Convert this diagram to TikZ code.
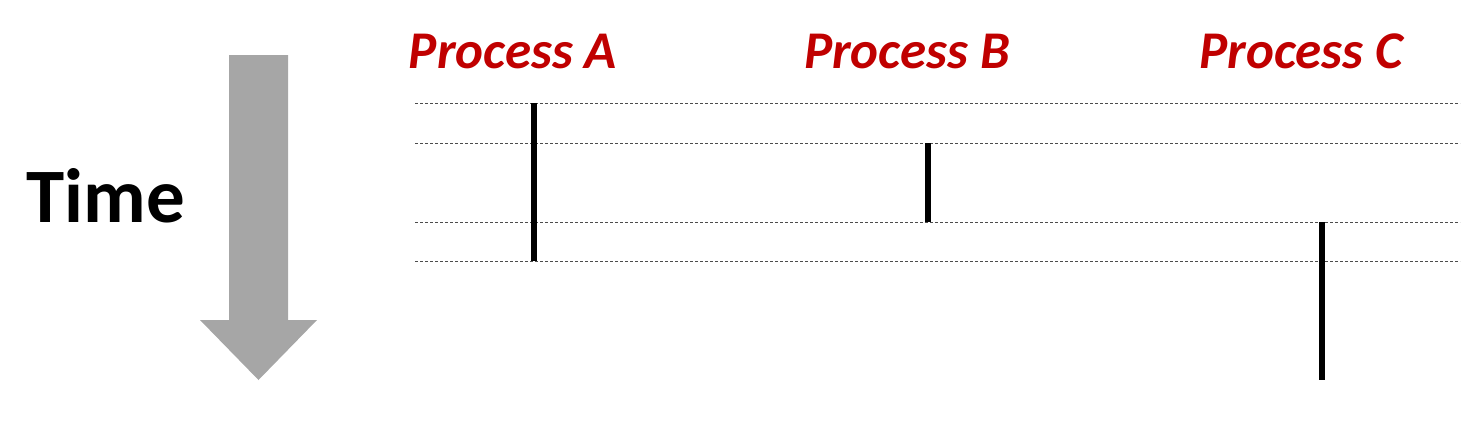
\documentclass[tikz,border=0pt]{standalone}
\usepackage{fontspec}
\setmainfont{Carlito}
\usetikzlibrary{positioning}
\definecolor{procred}{RGB}{192,0,0}
\definecolor{arrowgray}{RGB}{166,166,166}

\begin{document}
\begin{tikzpicture}[
  x=1pt, y=-1pt,
  proc/.style={font=\fontsize{53}{60}\selectfont\bfseries\itshape, text=procred, anchor=base},
  timelabel/.style={font=\fontsize{77}{80}\selectfont\bfseries, anchor=base west},
  tick/.style={dashed, dash pattern=on 3pt off 2pt, draw=black!70, line width=0.9pt},
  slice/.style={line width=6pt}
]
\useasboundingbox (0,0) rectangle (1484,432);

% time axis
\node[timelabel] (time) at (23,222) {Time};
\fill[arrowgray] (229,55) -- (288,55) -- (288,320) -- (317,320)
  -- (258.5,380) -- (200,320) -- (229,320) -- cycle;

% processes
\node[proc] (procA) at (513,68) {Process A};
\node[proc] (procB) at (907,68) {Process B};
\node[proc] (procC) at (1301,68) {Process C};

% dashed time marks
\foreach \i/\y in {0/103, 1/143, 2/222, 3/261} {
  \coordinate (l\i) at (415,\y);
  \coordinate (r\i) at (1460,\y);
  \draw[tick] (l\i) -- (r\i);
}
\coordinate (end) at (1322,380);

% running slices
\coordinate (xA) at (534,0);
\coordinate (xB) at (928,0);
\coordinate (xC) at (1322,0);
\draw[slice] (xA |- l0) -- (xA |- l3);
\draw[slice] (xB |- l1) -- (xB |- l2);
\draw[slice] (xC |- l2) -- (end);
\end{tikzpicture}
\end{document}
